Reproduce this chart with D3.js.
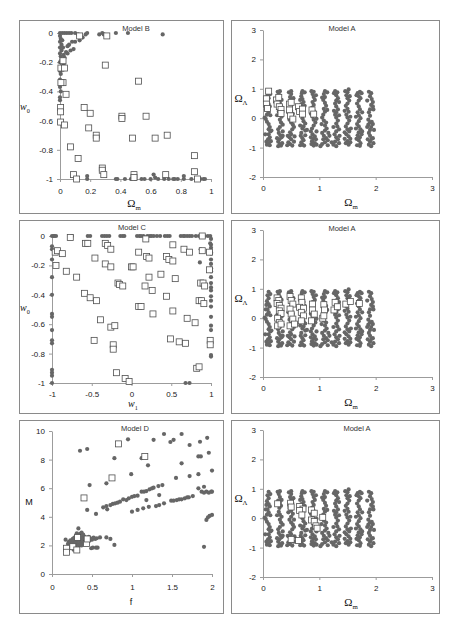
<!DOCTYPE html>
<html>
<head>
<meta charset="utf-8">
<script src="https://cdn.jsdelivr.net/npm/d3@7/dist/d3.min.js"></script>
<style>
  body { margin: 0; background: #fff; }
  svg { display: block; }
  .axis path, .axis line { stroke: #9c9c9c; }
  .axis text { font-family: "Liberation Sans", Arial, sans-serif; font-size: 8px; fill: #222; }
  .title { font-family: "Liberation Sans", Arial, sans-serif; font-size: 7.5px; fill: #333; }
</style>
</head>
<body>
<svg id="chart" width="451" height="644"></svg>
<script>
// ---- tick values ----
const ticksB_x = [0, 0.2, 0.4, 0.6, 0.8, 1];
const ticksB_y = [0, -0.2, -0.4, -0.6, -0.8, -1];
const ticksC_x = [-1, -0.5, 0, 0.5, 1];
const ticksC_y = [0, -0.2, -0.4, -0.6, -0.8, -1];
const ticksD_x = [0, 0.5, 1, 1.5, 2];
const ticksD_y = [0, 2, 4, 6, 8, 10];
const ticksA_x = [0, 1, 2, 3];
const ticksA_y = [3, 2, 1, 0, -1, -2];

// ---- Model B (Omega_m, w0) ----
const modelBDots = [
  [0,0],[0.015,0],[0.03,0],[0.045,0],[0.06,0],[0.075,0],[0.1,0],[0.12,-0.01],[0.17,-0.01],[0.18,0],
  [0.26,-0.01],[0.28,0],[0.29,-0.01],[0.37,0],[0.45,0],[0.68,-0.01],
  [0.15,-0.03],[0.13,-0.05],[0.1,-0.06],[0.08,-0.06],[0.06,-0.08],[0.05,-0.09],[0.09,-0.11],[0.07,-0.12],
  [0.04,-0.13],[0.05,-0.14],[0.03,-0.17],[0.02,-0.2],[0.025,-0.22],
  [0,-0.02],[0.005,-0.04],[0,-0.06],[0.01,-0.08],[0,-0.1],[0.01,-0.12],[0,-0.14],[0.005,-0.16],[0.01,-0.18],
  [0,-0.2],[0.01,-0.23],[0,-0.26],[0.005,-0.28],[0,-0.32],[0.01,-0.33],[0,-0.37],[0.005,-0.4],[0,-0.44],
  [0,-0.46],[0.02,-0.1],[0.025,-0.15],[0.02,-0.25],[0.015,-0.05],
  [0.18,-0.98],[0.18,-1],[0.37,-1],[0.38,-1],[0.43,-1],[0.47,-1],[0.49,-0.99],[0.5,-1],[0.54,-1],[0.56,-1],
  [0.6,-1],[0.62,-0.97],[0.63,-0.99],[0.65,-1],[0.69,-1],[0.72,-1],[0.75,-1],[0.76,-1],[0.78,-1],[0.82,-0.98],
  [0.82,-1],[0.87,-1],[0.9,-1],[0.93,-1],[0.95,-1],[0.96,-1]
];
const modelBSquares = [
  [0.13,-0.02],[0.31,-0.02],[0.3,-0.22],[0.52,-0.33],[0.006,-0.24],[0.02,-0.19],[0.03,-0.24],[0.02,-0.34],
  [0.006,-0.34],[0.04,-0.42],[0.004,-0.51],[0.004,-0.54],[0.004,-0.61],[0.03,-0.63],[0.16,-0.51],[0.2,-0.55],
  [0.19,-0.65],[0.24,-0.7],[0.24,-0.72],[0.41,-0.57],[0.41,-0.585],[0.57,-0.57],[0.48,-0.72],[0.63,-0.72],
  [0.71,-0.7],[0.07,-0.78],[0.12,-0.86],[0.28,-0.925],[0.28,-0.94],[0.29,-0.97],[0.09,-0.97],[0.11,-1],
  [0.49,-0.97],[0.49,-0.99],[0.7,-0.97],[0.89,-0.84],[0.89,-0.95],[0.91,-1]
];

// ---- Model C (w1, w0) ----
const modelCDots = [
  [-1,0],[-0.98,0],[-0.97,0],[-0.95,0],[-0.75,0],[-0.55,0],[-0.52,0],[-0.37,0],[-0.34,0],[-0.31,0],[-0.28,0],
  [-0.14,0],[-0.11,0],[-0.09,0],[0.07,0],[0.1,0],[0.12,0],[0.15,0],[0.2,0],[0.23,0],[0.25,0],[0.28,0],[0.32,0],
  [0.36,0],[0.42,0],[0.45,0],[0.48,0],[0.62,0],[0.65,0],[0.67,0],[0.7,0],[0.73,0],[0.76,0],[0.81,0],[0.85,0],
  [0.92,0],[0.96,0],[0.99,0],
  [-1,-0.07],[-1,-0.09],[-1,-0.16],[-1,-0.28],[-1,-0.4],[-1,-0.53],[-1,-0.55],[-1,-0.64],[-1,-0.71],[-1,-0.73],
  [-1,-0.91],[-1,-0.93],[-1,-0.95],[-1,-1],
  [1,-0.02],[1,-0.06],[1,-0.08],[1,-0.11],[1,-0.12],[1,-0.16],[1,-0.19],[1,-0.22],[1,-0.24],[1,-0.28],[1,-0.32],
  [1,-0.35],[1,-0.37],[1,-0.41],[1,-0.44],[1,-0.48],[1,-0.55],[1,-0.61],[1,-0.64],[1,-0.72],[1,-0.81],[1,-0.82],
  [0.99,-0.05],[0.68,-1],[0.73,-1],[0.87,-0.09],[0.86,-0.18],[0.98,-0.23]
];
const modelCSquares = [
  [-0.77,-0.01],[-0.58,-0.05],[-0.55,-0.05],[-0.33,-0.05],[-0.3,-0.065],[-0.26,-0.09],[0.18,-0.02],[0.52,-0.06],
  [0.66,-0.09],[0.73,-0.11],[0.89,0],[0.89,-0.1],[-0.96,-0.11],[-0.93,-0.1],[-0.87,-0.12],[-0.95,-0.2],
  [-0.82,-0.24],[-0.69,-0.28],[-0.46,-0.15],[-0.33,-0.19],[-0.26,-0.21],[0,-0.21],[0.02,-0.21],[0.09,-0.11],
  [0.19,-0.14],[0.22,-0.15],[0.44,-0.14],[0.47,-0.16],[0.52,-0.17],[0.37,-0.26],[0.22,-0.28],[0.55,-0.29],
  [-0.17,-0.32],[-0.15,-0.33],[-0.11,-0.34],[0.17,-0.34],[0.26,-0.37],[-0.59,-0.39],[-0.52,-0.42],[-0.44,-0.44],
  [0.09,-0.48],[0.12,-0.48],[0.44,-0.41],[0.27,-0.53],[0.52,-0.51],[-0.39,-0.57],[0.7,-0.56],[0.8,-0.59],
  [-0.26,-0.62],[-0.21,-0.61],[0.49,-0.7],[0.6,-0.72],[0.68,-0.73],[-0.47,-0.71],[-0.23,-0.74],[-0.23,-0.77],
  [-0.19,-0.93],[-0.08,-0.97],[-0.03,-0.99],[0.82,-0.9],[0.85,-0.89],[0.87,-0.32],[0.9,-0.32],[0.92,-0.34],
  [0.85,-0.44],[0.88,-0.44],[0.91,-0.46],[0.99,-0.71],[0.99,-0.74],[0.98,-0.23],[0.98,-0.11]
];

// ---- Model D (f, M) ----
const modelDDots = [
  [0.35,8.62],[0.44,8.74],[0.47,6.22],[0.44,4.48],[0.55,4.2],[0.68,6.34],[0.78,8.1],[0.95,9.42],[0.99,6.98],
  [1.12,8.1],[1.2,7.6],[1.27,9.38],[1.4,9.79],[1.48,9.23],[1.52,9.38],[1.62,9.79],[1.72,9.02],[1.85,9.25],
  [1.94,9.52],[1.96,8.48],[1.83,8.22],[1.86,8.22],[1.62,7.74],[1.55,6.72],[1.72,6.85],[1.83,6.98],[2,7.23],
  [1.9,6.1],[1.9,1.9],
  [0.64,4.66],[0.68,4.75],[0.69,4.52],[0.73,4.82],[0.76,4.9],[0.79,4.94],[0.82,4.99],[0.85,5.06],[0.89,5.22],
  [0.93,5.17],[0.96,5.29],[1,5.4],[1.03,5.45],[1.07,5.48],[1.12,5.76],[1.15,5.76],[1.18,5.8],[1.22,5.92],
  [1.25,5.99],[1.27,6.04],[1.33,6.15],[1.38,6.22],
  [1,4.36],[1.07,4.48],[1.14,4.59],[1.21,4.7],[1.3,4.75],[1.34,4.82],[1.4,4.94],[1.49,5.13],[1.52,5.13],
  [1.56,5.17],[1.59,5.22],[1.62,5.22],[1.66,5.29],[1.69,5.36],[1.71,5.36],[1.76,5.45],[1.83,5.99],[1.87,5.76],
  [1.9,5.69],[1.93,5.76],[1.96,5.69],[1.99,5.76],[2,5.76],[1.18,5.17],[1.34,5.52],
  [1.93,3.78],[1.95,3.96],[1.97,4.06],[2,4.13],
  [0.17,2.4],[0.2,2.1],[0.21,2.25],[0.22,2],[0.23,2.15],[0.23,2.35],[0.24,1.9],[0.25,2.05],[0.25,2.25],
  [0.26,2.45],[0.26,1.85],[0.27,2.1],[0.27,2.3],[0.28,2.55],[0.28,1.95],[0.29,2.2],[0.29,2.4],[0.3,2.65],
  [0.3,2],[0.31,2.3],[0.31,2.85],[0.32,2.5],[0.32,2.1],[0.33,3.19],[0.33,2.7],[0.34,2.35],[0.34,2],[0.35,2.55],
  [0.35,2.8],[0.36,2.2],[0.36,2.45],[0.37,2.9],[0.37,2],[0.38,2.6],[0.38,2.3],[0.39,2.75],[0.4,2.45],
  [0.4,2.15],[0.41,2.6],[0.42,2.3],[0.43,2.5],[0.44,2.2],[0.45,2.45],[0.46,2.6],[0.47,2.35],[0.48,2.5],
  [0.5,2.4],[0.52,2.55],[0.54,2.45],[0.56,2.5],[0.6,2.56],[0.68,2.56],[0.73,2.45],[0.78,2.03],[0.49,1.8],
  [0.51,1.84],[0.55,1.84],[0.57,1.84],[0.27,1.7],[0.3,1.75],[0.22,1.8]
];
const modelDSquares = [
  [0.18,1.8],[0.18,1.52],[0.26,1.91],[0.31,1.68],[0.32,2.56],[0.43,2.14],[0.44,2.45],
  [0.4,5.32],[0.75,6.72],[0.83,9.1],[1.16,8.22]
];

// ---- Model A background grid (Omega_m, Omega_Lambda), same in the three right panels ----
const modelADots = [
  [0.1,0.9],[0.08,0.78],[0.1,0.68],[0.07,0.58],[0.1,0.48],[0.12,0.4],[0.08,0.3],[0.1,0.2],[0.07,0.12],[0.03,0.02],
  [0.05,-0.03],[0.07,-0.12],[0.1,-0.2],[0.12,-0.3],[0.1,-0.38],[0.13,-0.45],[0.15,-0.42],[0.1,-0.55],[0.12,-0.65],
  [0.09,-0.72],[0.06,-0.8],[0.07,-0.9],[0.12,-0.92],[0.06,0.45],
  [0.13,0.82],[0.05,0.3],[0.13,0.1],[0.04,-0.55],[0.14,-0.78],[0.1,-0.85],
  [0.3,0.92],[0.28,0.82],[0.3,0.72],[0.27,0.6],[0.3,0.52],[0.32,0.42],[0.29,0.35],[0.28,0.22],[0.3,0.12],
  [0.33,0.05],[0.3,-0.05],[0.32,-0.15],[0.35,-0.22],[0.3,-0.3],[0.27,-0.38],[0.28,-0.5],[0.31,-0.58],[0.33,-0.65],
  [0.29,-0.72],[0.27,-0.8],[0.3,-0.88],[0.32,-0.93],[0.27,-0.95],[0.35,-0.45],
  [0.26,0.9],[0.33,0.62],[0.25,0.1],[0.35,-0.6],[0.25,-0.68],[0.34,-0.85],
  [0.5,0.92],[0.5,0.82],[0.48,0.72],[0.5,0.62],[0.52,0.52],[0.5,0.42],[0.47,0.35],[0.5,0.25],[0.53,0.15],
  [0.5,0.05],[0.47,-0.05],[0.5,-0.15],[0.53,-0.22],[0.55,-0.3],[0.52,-0.38],[0.48,-0.48],[0.5,-0.55],[0.47,-0.65],
  [0.5,-0.72],[0.45,-0.82],[0.48,-0.88],[0.52,-0.93],[0.43,-0.92],[0.55,-0.8],
  [0.46,0.88],[0.54,0.68],[0.45,0.2],[0.55,-0.05],[0.44,-0.6],[0.56,-0.62],
  [0.7,0.92],[0.69,0.85],[0.68,0.75],[0.7,0.65],[0.72,0.55],[0.68,0.48],[0.7,0.38],[0.72,0.28],[0.7,0.18],
  [0.68,0.1],[0.7,0],[0.72,-0.1],[0.75,-0.18],[0.72,-0.28],[0.7,-0.35],[0.75,-0.42],[0.68,-0.5],[0.67,-0.6],
  [0.7,-0.68],[0.72,-0.75],[0.68,-0.82],[0.7,-0.9],[0.73,-0.93],[0.78,-0.4],
  [0.74,0.88],[0.66,0.62],[0.74,0.42],[0.66,-0.25],[0.75,-0.58],[0.66,-0.92],
  [0.9,0.9],[0.88,0.82],[0.9,0.72],[0.92,0.62],[0.88,0.55],[0.9,0.45],[0.87,0.35],[0.9,0.25],[0.92,0.15],
  [0.88,0.05],[0.9,-0.05],[0.93,-0.15],[0.9,-0.25],[0.87,-0.35],[0.85,-0.45],[0.88,-0.55],[0.92,-0.62],[0.9,-0.7],
  [0.87,-0.78],[0.92,-0.85],[0.9,-0.93],[0.95,-0.9],[0.85,-0.65],[0.95,-0.45],
  [0.86,0.92],[0.94,0.78],[0.85,0.15],[0.95,-0.02],[0.86,-0.88],[0.94,-0.72],
  [1.1,0.92],[1.08,0.82],[1.1,0.72],[1.07,0.62],[1.1,0.52],[1.12,0.42],[1.08,0.32],[1.1,0.22],[1.07,0.12],
  [1.05,0.02],[1.08,-0.08],[1.12,-0.15],[1.1,-0.25],[1.13,-0.35],[1.1,-0.42],[1.05,-0.5],[1.08,-0.6],[1.12,-0.68],
  [1.15,-0.75],[1.1,-0.82],[1.05,-0.88],[1.02,-0.95],[1.15,-0.92],[1.18,-0.6],
  [1.14,0.88],[1.05,0.7],[1.14,0.28],[1.04,-0.2],[1.16,-0.5],[1.07,-0.72],
  [1.28,0.92],[1.32,0.88],[1.3,0.78],[1.33,0.68],[1.3,0.6],[1.28,0.5],[1.3,0.4],[1.33,0.3],[1.3,0.2],
  [1.28,0.12],[1.3,0.02],[1.33,-0.08],[1.3,-0.18],[1.32,-0.28],[1.35,-0.38],[1.3,-0.45],[1.27,-0.55],[1.3,-0.65],
  [1.33,-0.72],[1.28,-0.8],[1.25,-0.9],[1.3,-0.95],[1.35,-0.85],[1.22,-0.82],
  [1.26,0.85],[1.35,0.55],[1.26,0.25],[1.35,0.1],[1.25,-0.3],[1.36,-0.6],
  [1.52,0.98],[1.5,0.88],[1.48,0.78],[1.5,0.68],[1.53,0.6],[1.5,0.5],[1.47,0.42],[1.5,0.32],[1.52,0.22],
  [1.48,0.12],[1.5,0.02],[1.53,-0.08],[1.5,-0.18],[1.47,-0.28],[1.5,-0.38],[1.53,-0.45],[1.48,-0.55],[1.52,-0.62],
  [1.55,-0.7],[1.5,-0.78],[1.47,-0.85],[1.52,-0.9],[1.55,-0.82],[1.45,-0.48],
  [1.46,0.92],[1.54,0.75],[1.45,0.25],[1.55,0.05],[1.45,-0.7],[1.56,-0.35],
  [1.72,0.9],[1.68,0.85],[1.7,0.75],[1.73,0.68],[1.7,0.6],[1.67,0.5],[1.7,0.4],[1.72,0.3],[1.68,0.2],
  [1.7,0.1],[1.73,0],[1.7,-0.1],[1.67,-0.2],[1.7,-0.28],[1.73,-0.38],[1.7,-0.48],[1.68,-0.58],[1.72,-0.65],
  [1.7,-0.75],[1.73,-0.85],[1.67,-0.92],[1.72,-0.94],[1.76,-0.45],[1.65,-0.35],
  [1.66,0.78],[1.75,0.85],[1.65,0.05],[1.76,0.2],[1.66,-0.7],[1.75,-0.55],
  [1.88,0.9],[1.92,0.85],[1.9,0.75],[1.93,0.65],[1.95,0.55],[1.92,0.45],[1.95,0.4],[1.9,0.3],[1.88,0.2],
  [1.9,0.08],[1.87,-0.05],[1.9,-0.15],[1.95,-0.2],[1.92,-0.3],[1.87,-0.22],[1.93,-0.12],[1.9,-0.4],[1.88,-0.5],
  [1.9,-0.6],[1.93,-0.7],[1.9,-0.8],[1.88,-0.9],[1.92,-0.95],[1.95,-0.68],
  [1.85,0.6],[1.96,0.3],[1.85,-0.3],[1.97,-0.4],[1.86,-0.72],[1.96,-0.85]
];
const modelASquares1 = [
  [0.1,0.92],[0.06,0.66],[0.06,0.48],[0.08,0.33],[0.24,0.62],[0.28,0.71],[0.25,0.48],[0.29,0.39],[0.32,0.3],
  [0.32,0.16],[0.47,0.48],[0.5,0.54],[0.47,0.28],[0.49,0.08],[0.53,-0.03],[0.63,0.39],[0.65,0.23],[0.7,0.31],
  [0.7,0.14],[0.87,0.28],[0.9,0.14]
];
const modelASquares2 = [
  [0.25,0.69],[0.28,0.6],[0.25,0.5],[0.29,0.43],[0.32,0.34],[0.29,0.25],[0.32,0.16],[0.26,0],[0.29,-0.15],
  [0.26,-0.26],[0.32,-0.2],[0.48,0.74],[0.5,0.6],[0.53,0.48],[0.48,0.31],[0.5,0.14],[0.53,-0.03],[0.48,-0.26],
  [0.56,-0.2],[0.68,0.69],[0.69,0.54],[0.65,0.37],[0.72,0.34],[0.68,0.2],[0.72,0.08],[0.68,-0.09],[0.88,0.48],
  [0.88,0.28],[0.91,0.14],[0.86,-0.09],[1.08,0.46],[1.09,0.28],[1.06,0],[1.08,0.08],[1.28,0.54],[1.26,0.28],
  [1.32,0.39],[1.47,0.48],[1.55,0.57],[1.71,0.5]
];
const modelASquares3 = [
  [0.26,0.49],[0.49,0.51],[0.5,0.38],[0.65,0.4],[0.71,0.31],[0.65,0.26],[0.69,0.11],[0.86,0.28],[0.91,0.17],
  [0.86,-0.06],[0.91,-0.11],[0.94,-0.26],[0.96,-0.34],[1.06,0.03],[0.5,-0.72],[0.63,-0.76]
];

const svg = d3.select('#chart');

function addLabel(g, lab) {
  const t = g.append('text')
    .attr('x', lab.x)
    .attr('y', lab.y)
    .attr('text-anchor', 'middle')
    .attr('font-family', lab.serif ? '"Liberation Serif", "Times New Roman", serif' : '"Liberation Sans", Arial, sans-serif')
    .attr('font-size', lab.size)
    .attr('font-style', lab.italic ? 'italic' : 'normal')
    .attr('fill', '#111');
  t.append('tspan').text(lab.text);
  if (lab.sub) {
    t.append('tspan')
      .attr('font-size', lab.size * 0.62)
      .attr('font-style', 'normal')
      .attr('dy', lab.size * 0.28)
      .text(lab.sub);
  }
}

function drawPanel(p) {
  const g = svg.append('g');

  g.append('rect')
    .attr('x', p.frame[0] + 0.5)
    .attr('y', p.frame[1] + 0.5)
    .attr('width', p.frame[2])
    .attr('height', p.frame[3])
    .attr('fill', 'none')
    .attr('stroke', '#8a8a8a');

  const x = d3.scaleLinear().domain(p.xDomain).range(p.xRange);
  const y = d3.scaleLinear().domain(p.yDomain).range(p.yRange);

  g.append('g')
    .attr('class', 'axis')
    .attr('transform', `translate(0,${p.yRange[0]})`)
    .call(d3.axisBottom(x).tickValues(p.xTicks).tickFormat(d => String(d))
      .tickSize(3).tickSizeOuter(0).tickPadding(p.xPad));

  g.append('g')
    .attr('class', 'axis')
    .attr('transform', `translate(${p.xRange[0]},0)`)
    .call(d3.axisLeft(y).tickValues(p.yTicks).tickFormat(d => String(d))
      .tickSize(3).tickSizeOuter(0).tickPadding(4));

  g.append('text')
    .attr('class', 'title')
    .attr('x', p.title[0])
    .attr('y', p.title[1])
    .attr('text-anchor', 'middle')
    .text(p.title[2]);

  addLabel(g, p.xLabel);
  addLabel(g, p.yLabel);

  g.append('g').selectAll('circle')
    .data(p.dots)
    .join('circle')
    .attr('cx', d => x(d[0]))
    .attr('cy', d => y(d[1]))
    .attr('r', 2.1)
    .attr('fill', '#666');

  const s = 6;
  g.append('g').selectAll('rect')
    .data(p.squares)
    .join('rect')
    .attr('x', d => x(d[0]) - s / 2)
    .attr('y', d => y(d[1]) - s / 2)
    .attr('width', s)
    .attr('height', s)
    .attr('fill', '#fff')
    .attr('stroke', '#505050')
    .attr('stroke-width', 0.8);
}

drawPanel({
  frame: [19, 20, 204, 193],
  xDomain: [0, 1], xRange: [60, 211], yDomain: [-1, 0], yRange: [179, 33],
  xTicks: ticksB_x, yTicks: ticksB_y, xPad: 6,
  title: [136, 31, 'Model B'],
  xLabel: { text: 'Ω', sub: 'm', x: 134, y: 207, size: 11, serif: true },
  yLabel: { text: 'w', sub: '0', x: 25, y: 110, size: 10, serif: true, italic: true },
  dots: modelBDots, squares: modelBSquares
});

drawPanel({
  frame: [19, 220, 204, 193],
  xDomain: [-1, 1], xRange: [52, 211], yDomain: [-1, 0], yRange: [383, 236],
  xTicks: ticksC_x, yTicks: ticksC_y, xPad: 5,
  title: [132, 230, 'Model C'],
  xLabel: { text: 'w', sub: '1', x: 133, y: 407, size: 10, serif: true, italic: true },
  yLabel: { text: 'w', sub: '0', x: 25, y: 311, size: 10, serif: true, italic: true },
  dots: modelCDots, squares: modelCSquares
});

drawPanel({
  frame: [19, 420, 204, 193],
  xDomain: [0, 2], xRange: [52, 212], yDomain: [0, 10], yRange: [574, 431],
  xTicks: ticksD_x, yTicks: ticksD_y, xPad: 7,
  title: [135, 431, 'Model D'],
  xLabel: { text: 'f', x: 131, y: 605, size: 9 },
  yLabel: { text: 'M', x: 29, y: 505, size: 9 },
  dots: modelDDots, squares: modelDSquares
});

[
  { top: 20, squares: modelASquares1, titleX: 342 },
  { top: 220, squares: modelASquares2, titleX: 342 },
  { top: 420, squares: modelASquares3, titleX: 357 }
].forEach(r => {
  drawPanel({
    frame: [231, r.top, 208, 193],
    xDomain: [0, 3], xRange: [263, 432], yDomain: [-2, 3], yRange: [r.top + 157, r.top + 10],
    xTicks: ticksA_x, yTicks: ticksA_y, xPad: 5,
    title: [r.titleX, r.top + 11, 'Model A'],
    xLabel: { text: 'Ω', sub: 'm', x: 351, y: r.top + 186, size: 11, serif: true },
    yLabel: { text: 'Ω', sub: 'Λ', x: 241, y: r.top + 82, size: 11, serif: true },
    dots: modelADots, squares: r.squares
  });
});
</script>
</body>
</html>
